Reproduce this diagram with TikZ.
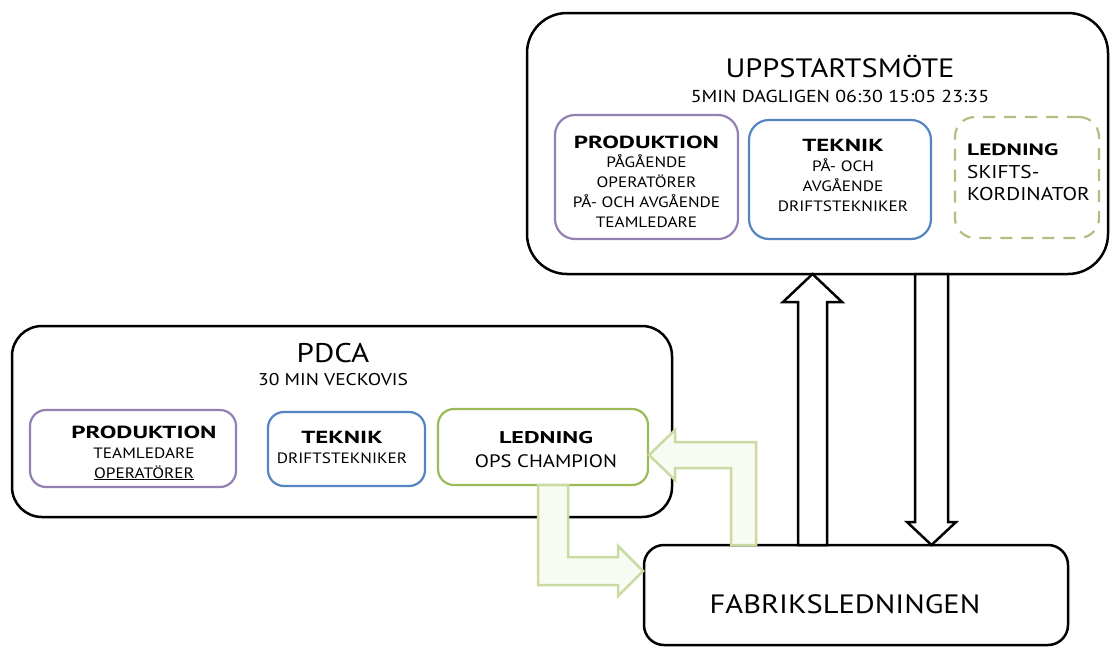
\documentclass[tikz,border=0pt]{standalone}
\usepackage{fontspec}
\setmainfont[FakeStretch=1.15]{PT Sans}
\newfontfamily\hbf[FakeStretch=1.42]{PT Sans}
\definecolor{cpurple}{HTML}{9481B4}
\definecolor{cblue}{HTML}{5585C0}
\definecolor{cgreen}{HTML}{9BBB59}
\definecolor{cdash}{HTML}{B0BE80}
\definecolor{garrow}{HTML}{C9DBA3}
\definecolor{garrowfill}{HTML}{F8FBF1}
\begin{document}
\begin{tikzpicture}[x=1pt,y=-1pt,
  bigbox/.style={draw=black, line width=2.5pt, rounded corners=#1, fill=white, inner sep=0pt, rectangle},
  inbox/.style={line width=2.2pt, rounded corners=#1, fill=white, inner sep=0pt, rectangle},
  txt/.style={inner sep=0pt, align=center, font=\fontsize{15}{19.7}\selectfont},
  blockarrow/.style={draw=black, line width=2.5pt, fill=white, line join=miter},
  greenarrow/.style={draw=garrow, line width=2.5pt, fill=garrowfill, line join=miter}]
\useasboundingbox[fill=white] (0,0) rectangle (1113,648);

% ---------- top box ----------
\node[bigbox=40, minimum width=581pt, minimum height=261pt] (top) at (817.5,143.5) {};
\node[inner sep=0pt, anchor=base, font=\fontsize{26.5}{30}\selectfont] (toptitle) at (840,77) {UPPSTARTSMÖTE};
\node[inner sep=0pt, anchor=base, font=\fontsize{17.3}{20}\selectfont] (topsub) at (840,102) {5MIN DAGLIGEN 06:30 15:05 23:35};

\node[inbox=20, draw=cpurple, minimum width=183pt, minimum height=124pt] (tprod) at (646.5,177) {};
\node[txt, anchor=base] (tprodt) at (646.5,227) {{\hbf\bfseries\fontsize{17.5}{19.7}\selectfont PRODUKTION}\\PÅGÅENDE\\OPERATÖRER\\PÅ- OCH AVGÅENDE\\TEAMLEDARE};

\node[inbox=20, draw=cblue, minimum width=182pt, minimum height=119pt] (ttek) at (840,179.5) {};
\node[txt, anchor=base] (ttekt) at (843,211) {{\hbf\bfseries\fontsize{17.5}{19.7}\selectfont TEKNIK}\\PÅ- OCH\\AVGÅENDE\\DRIFTSTEKNIKER};

\node[inbox=20, draw=cdash, dash pattern=on 12pt off 9pt, minimum width=144pt, minimum height=121pt] (tled) at (1027,177.5) {};
\node[txt, align=left, anchor=base west, font=\fontsize{18.5}{23}\selectfont] (tledt) at (967,200) {{\hbf\bfseries\fontsize{16.5}{23}\selectfont LEDNING}\\SKIFTS-\\[-1pt]KORDINATOR};

% ---------- PDCA box ----------
\node[bigbox=30, minimum width=660pt, minimum height=191pt] (pdca) at (342,421.5) {};
\node[inner sep=0pt, anchor=base, font=\fontsize{27}{28}\selectfont] (pdcatitle) at (333,362) {PDCA};
\node[inner sep=0pt, anchor=base, font=\fontsize{17}{18}\selectfont] (pdcasub) at (333,385) {30 MIN VECKOVIS};

\node[inbox=16, draw=cpurple, minimum width=206pt, minimum height=77pt] (pprod) at (133,448.5) {};
\node[txt, anchor=base] (pprodt) at (144,478) {{\hbf\bfseries\fontsize{17.5}{19.7}\selectfont PRODUKTION}\\TEAMLEDARE\\\underline{OPERATÖRER}};

\node[inbox=16, draw=cblue, minimum width=157pt, minimum height=74pt] (ptek) at (346.5,449) {};
\node[txt, anchor=base] (ptekt) at (342,463) {{\hbf\bfseries\fontsize{17.5}{19.7}\selectfont TEKNIK}\\DRIFTSTEKNIKER};

\node[inbox=16, draw=cgreen, minimum width=210pt, minimum height=76pt] (pled) at (543,447) {};
\node[txt, anchor=base, font=\fontsize{18}{24}\selectfont] (pledt) at (546,467) {{\hbf\bfseries\fontsize{17}{24}\selectfont LEDNING}\\OPS CHAMPION};

% ---------- Fabriksledningen ----------
\node[bigbox=20, minimum width=424pt, minimum height=100pt] (fab) at (856,595) {};
\node[inner sep=0pt, anchor=base, font=\fontsize{26.5}{28}\selectfont] (fabt) at (845,613) {FABRIKSLEDNINGEN};

% ---------- black block arrows ----------
\draw[blockarrow] (798,545) -- (798,302) -- (783,302) -- (812.5,274) -- (842,302) -- (827,302) -- (827,545) -- cycle;
\draw[blockarrow] (915,274) -- (915,522) -- (907,522) -- (931.5,545) -- (956,522) -- (948,522) -- (948,274) -- cycle;

% ---------- green elbow arrows ----------
\draw[greenarrow] (538,485) -- (538,585) -- (618,585) -- (618,596) -- (643,571) -- (618,546) -- (618,557) -- (568,557) -- (568,485) -- cycle;
\draw[greenarrow] (756,545) -- (756,442) -- (675,442) -- (675,430) -- (649,455) -- (675,480) -- (675,468) -- (731,468) -- (731,545) -- cycle;
\end{tikzpicture}
\end{document}
